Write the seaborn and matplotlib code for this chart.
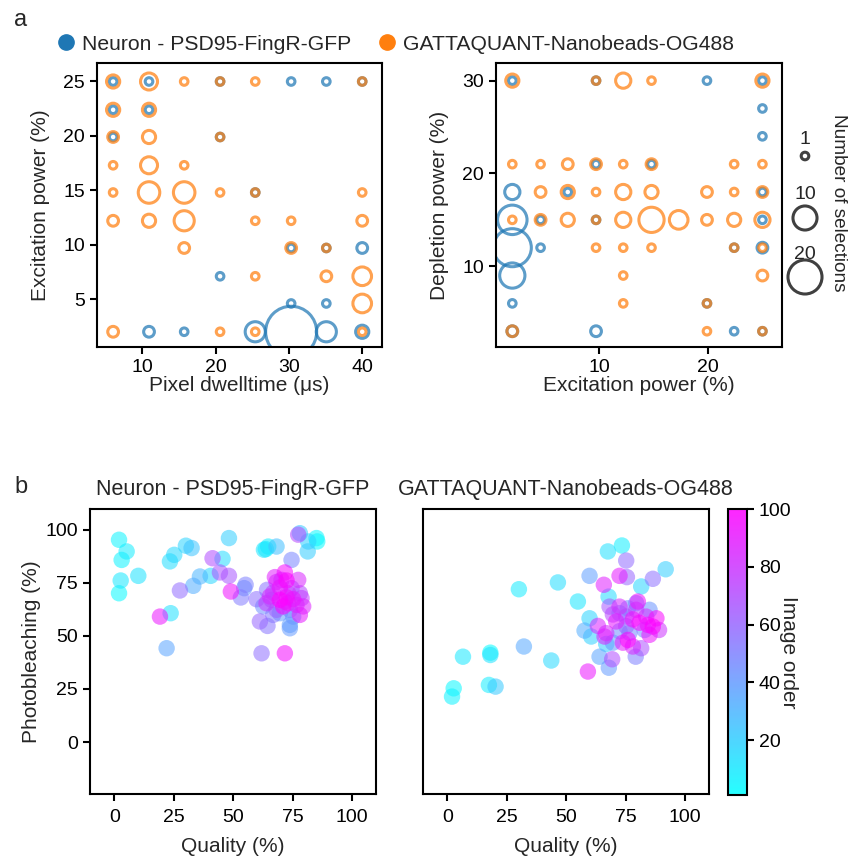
import numpy as np
import pandas as pd
import matplotlib
matplotlib.use("Agg")
import matplotlib.pyplot as plt
import seaborn as sns
from matplotlib.colors import Normalize
from matplotlib.cm import ScalarMappable
from matplotlib.lines import Line2D

# ---------------- data ----------------
dwell_levels = [6.0, 10.9, 15.7, 20.6, 25.4, 30.3, 35.1, 40.0]
exc_levels = [2.0, 4.6, 7.1, 9.7, 12.2, 14.8, 17.3, 19.9, 22.4, 25.0]
dep_levels = [3, 6, 9, 12, 15, 18, 21, 24, 27, 30]

series_names = ["Neuron - PSD95-FingR-GFP", "GATTAQUANT-Nanobeads-OG488"]
series_colors = ["#1f77b4", "#ff7f0e"]

# panel a-left : (dwell index, excitation index, count)
neuron_dw_i = [0, 1, 3, 5, 6, 7, 0, 1, 0, 3, 4, 5, 6, 7, 3, 5, 6, 1, 2, 4, 5, 6, 7]
neuron_dw_j = [9, 9, 9, 9, 9, 9, 8, 8, 7, 7, 5, 3, 3, 3, 2, 1, 1, 0, 0, 0, 0, 0, 0]
neuron_dw_n = [1, 1, 1, 1, 1, 1, 1, 1, 1, 1, 1, 1, 1, 2, 1, 1, 1, 2, 1, 7, 45, 7, 3]

gatta_dw_i = [0, 1, 2, 3, 4, 7, 0, 1, 0, 1, 3, 0, 1, 2, 0, 1, 2, 3, 4, 7,
              0, 1, 2, 4, 5, 7, 2, 5, 6, 4, 6, 7, 7, 0, 3, 4, 7]
gatta_dw_j = [9, 9, 9, 9, 9, 9, 8, 8, 7, 7, 7, 6, 6, 6, 5, 5, 5, 5, 5, 5,
              4, 4, 4, 4, 4, 4, 3, 3, 3, 2, 2, 2, 1, 0, 0, 0, 0]
gatta_dw_n = [3, 5, 1, 1, 1, 1, 3, 3, 2, 3, 1, 1, 5, 1, 1, 8, 8, 1, 1, 1,
              2, 3, 7, 1, 1, 2, 2, 2, 1, 1, 2, 6, 6, 2, 1, 1, 1]

# panel a-right : (excitation index, depletion index, count)
neuron_ex_k = [0, 3, 7, 9, 9, 9, 3, 5, 0, 2, 9, 0, 1, 3, 9, 0, 1, 8, 9, 0, 0, 7, 0, 3, 8, 9]
neuron_ex_m = [9, 9, 9, 9, 8, 7, 6, 6, 5, 5, 5, 4, 4, 4, 4, 3, 3, 3, 3, 2, 1, 1, 0, 0, 0, 0]
neuron_ex_n = [1, 1, 1, 1, 1, 1, 1, 1, 4, 1, 1, 15, 1, 1, 1, 25, 1, 1, 2, 11, 1, 1, 2, 2, 1, 1]

gatta_ex_k = [0, 3, 4, 5, 9,
              0, 1, 2, 3, 4, 5, 8, 9,
              1, 2, 3, 4, 5, 7, 8, 9,
              0, 1, 2, 3, 4, 5, 6, 7, 8, 9,
              3, 4, 5, 8, 9,
              4, 9, 4, 7, 0, 7, 9]
gatta_ex_m = [9, 9, 9, 9, 9,
              6, 6, 6, 6, 6, 6, 6, 6,
              5, 5, 5, 5, 5, 5, 5, 5,
              4, 4, 4, 4, 4, 4, 4, 4, 4, 4,
              3, 3, 3, 3, 3,
              2, 2, 1, 1, 0, 0, 0]
gatta_ex_n = [3, 1, 4, 1, 3,
              1, 1, 2, 2, 1, 2, 1, 1,
              2, 3, 1, 4, 3, 2, 1, 2,
              1, 2, 3, 1, 4, 11, 6, 2, 3, 4,
              1, 1, 1, 1, 1,
              1, 2, 1, 1, 2, 1, 1]

# panel b : quality, photobleaching, image order
neuron_quality = [2.0, 5.2, 3.1, 2.7, 2.0, 10.1, 23.4, 25.2, 30.1, 32.5, 48.2, 45.5, 40.5, 36.0, 33.2,
                  27.6, 23.7, 19.2, 22.0, 41.3, 44.4, 48.2, 49.0, 55.2, 54.6, 53.2, 59.8, 63.7, 62.9,
                  68.2, 64.7, 78.0, 77.3, 81.5, 85.0, 85.3, 81.3, 74.5, 61.9, 71.7, 61.2, 64.4, 73.8,
                  73.8, 78.0, 64.2, 67.5, 71.7, 77.3, 72.4, 69.6, 66.8, 72.4, 75.2, 78.7, 79.4, 71.0,
                  64.0, 66.1, 69.6, 73.1, 76.6, 73.8, 69.6, 66.8, 68.2, 75.2, 62.6, 65.4, 68.2, 70.3,
                  74.5, 78.0, 73.1, 71.7]
neuron_bleach = [95.3, 89.8, 85.8, 76.1, 70.1, 78.3, 85.1, 88.2, 92.5, 91.4, 96.1, 86.3, 78.3, 78.0, 73.6,
                 71.4, 60.7, 59.1, 44.2, 86.6, 79.9, 78.3, 70.9, 74.1, 72.5, 68.1, 67.3, 90.9, 90.6,
                 92.1, 92.1, 98.4, 97.7, 94.5, 96.1, 94.5, 89.8, 85.8, 41.8, 41.8, 56.8, 54.7, 53.6,
                 55.2, 59.9, 71.7, 77.7, 79.9, 76.4, 76.1, 72.8, 70.4, 68.2, 67.3, 67.8, 63.9, 63.9,
                 65.4, 67.0, 67.0, 65.4, 64.6, 62.3, 60.7, 59.9, 62.3, 59.1, 63.9, 68.6, 75.4, 76.4,
                 72.5, 70.1, 70.1, 66.2]
neuron_order = [5, 8, 6, 10, 3, 12, 14, 16, 18, 24, 20, 15, 17, 30, 33,
                58, 13, 92, 36, 70, 68, 66, 94, 50, 42, 52, 56, 9, 11,
                26, 7, 22, 72, 19, 4, 2, 21, 48, 57, 96, 60, 54, 40,
                38, 90, 55, 88, 97, 85, 99, 93, 74, 95, 91, 76, 87, 98,
                78, 64, 100, 89, 86, 46, 39, 53, 62, 41, 44, 84, 83, 82,
                67, 71, 81, 80]

gatta_quality = [2.0, 2.7, 6.6, 18.1, 18.1, 17.5, 20.3, 30.1, 32.2, 43.7, 46.5, 54.9, 59.8, 59.1, 67.5,
                 73.4, 75.2, 72.4, 75.5, 65.8, 81.5, 86.4, 91.8, 67.8, 59.8, 57.7, 60.5, 64.0, 67.9,
                 69.3, 79.2, 66.8, 63.3, 66.8, 68.2, 72.4, 80.1, 79.4, 85.0, 87.9, 84.3, 89.0, 85.0,
                 75.9, 78.0, 81.5, 71.0, 75.2, 72.4, 75.2, 78.0, 80.8, 76.6, 69.6, 73.8, 66.1, 82.9,
                 86.4, 69.6, 79.4, 72.4, 75.9, 83.6]
gatta_bleach = [21.4, 25.3, 40.2, 42.1, 41.0, 26.9, 26.1, 72.0, 45.0, 38.4, 75.2, 66.2, 78.3, 33.2, 89.8,
                92.6, 85.5, 78.3, 77.7, 74.1, 73.3, 76.9, 81.4, 68.5, 58.3, 52.5, 49.7, 40.2, 35.0,
                39.0, 40.2, 46.2, 54.7, 51.3, 63.8, 60.7, 66.2, 62.3, 62.3, 58.3, 55.2, 52.8, 50.5,
                48.1, 45.0, 44.2, 56.8, 59.1, 52.2, 54.6, 57.8, 56.2, 51.5, 46.8, 46.8, 49.7, 52.8,
                54.4, 60.1, 65.4, 63.8, 63.0, 59.1]
gatta_order = [6, 4, 10, 2, 12, 8, 22, 9, 35, 16, 14, 11, 38, 92, 13,
               7, 58, 90, 60, 88, 17, 56, 20, 15, 18, 33, 19, 36, 40,
               70, 50, 21, 86, 84, 66, 48, 94, 76, 42, 98, 96, 80, 93,
               99, 85, 68, 91, 64, 44, 62, 95, 97, 46, 41, 89, 87, 45,
               100, 72, 43, 83, 47, 82]

legend_counts = [1, 10, 20]

# ---------------- style ----------------
sns.set_style("ticks")
plt.rcParams["font.family"] = ["Liberation Sans", "DejaVu Sans"]
plt.rcParams.update({
    "axes.linewidth": 1.5,
    "xtick.major.width": 1.5, "ytick.major.width": 1.5,
    "xtick.major.size": 5, "ytick.major.size": 5,
    "xtick.labelsize": 14, "ytick.labelsize": 14,
    "axes.labelsize": 15, "axes.titlesize": 15.5,
    "axes.edgecolor": "black",
    "xtick.color": "black", "ytick.color": "black",
})

W, H = 848, 858
fig = plt.figure(figsize=(W / 100, H / 100), dpi=100)


def rect(x0, y0, x1, y1):
    return [x0 / W, 1 - y1 / H, (x1 - x0) / W, (y1 - y0) / H]


ax1 = fig.add_axes(rect(97, 63, 382, 347))
ax2 = fig.add_axes(rect(496, 63, 782, 347))
ax3 = fig.add_axes(rect(90, 509, 376, 794))
ax4 = fig.add_axes(rect(423, 509, 709, 794))
cax = fig.add_axes(rect(728, 509, 747, 795))

SIZES = (0, 3000)
SIZE_NORM = (0, 100)
RING_LW = 2.2
RING_ALPHA = 0.72


def rings(ax, xs, ys, ns, color):
    df = pd.DataFrame({"x": xs, "y": ys, "n": ns})
    sns.scatterplot(data=df, x="x", y="y", size="n", sizes=SIZES, size_norm=SIZE_NORM,
                    legend=False, ax=ax, color=color, linewidth=RING_LW, alpha=RING_ALPHA)
    coll = ax.collections[-1]
    coll.set_facecolor("none")
    coll.set_edgecolor(color)
    coll.set_alpha(RING_ALPHA)


# panel a-left
rings(ax1, [dwell_levels[i] for i in neuron_dw_i], [exc_levels[j] for j in neuron_dw_j], neuron_dw_n, series_colors[0])
rings(ax1, [dwell_levels[i] for i in gatta_dw_i], [exc_levels[j] for j in gatta_dw_j], gatta_dw_n, series_colors[1])
ax1.set_xlim(3.8, 42.7)
ax1.set_ylim(0.6, 26.7)
ax1.set_xticks([10, 20, 30, 40])
ax1.set_yticks([5, 10, 15, 20, 25])
ax1.set_xlabel("Pixel dwelltime (\u03bcs)", labelpad=0)
ax1.set_ylabel("Excitation power (%)", labelpad=10)

# panel a-right
rings(ax2, [exc_levels[k] for k in neuron_ex_k], [dep_levels[m] for m in neuron_ex_m], neuron_ex_n, series_colors[0])
rings(ax2, [exc_levels[k] for k in gatta_ex_k], [dep_levels[m] for m in gatta_ex_m], gatta_ex_n, series_colors[1])
ax2.set_xlim(0.5, 26.8)
ax2.set_ylim(1.3, 31.9)
ax2.set_xticks([10, 20])
ax2.set_yticks([10, 20, 30])
ax2.set_xlabel("Excitation power (%)", labelpad=0)
ax2.set_ylabel("Depletion power (%)", labelpad=10)

# series legend (top)
handles = [Line2D([], [], marker="o", ls="", markersize=11, markerfacecolor=c, markeredgecolor=c)
           for c in series_colors]
fig.legend(handles, series_names, loc="center left", bbox_to_anchor=(58 / W, 1 - 44 / H),
           ncol=2, frameon=False, fontsize=15.2, handlelength=0.8, handletextpad=0.35,
           columnspacing=1.3, borderaxespad=0, borderpad=0)

# size legend (key drawn in its own pixel-unit axes)
lax = fig.add_axes(rect(785, 100, 825, 300))
lax.set_xlim(785, 825)
lax.set_ylim(300, 100)
lax.axis("off")
key_x = 805
key_marker_y = [156, 218, 277]
key_label_y = [140, 195, 255]
leg_df = pd.DataFrame({"x": [key_x] * 3, "y": key_marker_y, "n": legend_counts})
sns.scatterplot(data=leg_df, x="x", y="y", size="n", sizes=SIZES, size_norm=SIZE_NORM,
                legend=False, ax=lax, color="0.25", linewidth=RING_LW)
lc = lax.collections[-1]
lc.set_facecolor("none")
lc.set_edgecolor("0.25")
lc.set_clip_on(False)
for yy, n in zip(key_label_y, legend_counts):
    lax.text(key_x, yy, str(n), ha="center", va="center", fontsize=14)
fig.text(838 / W, 1 - 203 / H, "Number of selections", rotation=270, ha="center", va="center", fontsize=13.7)

# panel b
cnorm = Normalize(1, 100)
PT_ALPHA = 0.55
for ax, q, pb, od, title in [(ax3, neuron_quality, neuron_bleach, neuron_order, series_names[0]),
                             (ax4, gatta_quality, gatta_bleach, gatta_order, series_names[1])]:
    df = pd.DataFrame({"q": q, "pb": pb, "order": od}).sort_values("order")
    sns.scatterplot(data=df, x="q", y="pb", hue="order", palette="cool", hue_norm=cnorm,
                    s=140, linewidth=0, alpha=PT_ALPHA, legend=False, ax=ax)
    ax.set_xlim(-10.2, 110)
    ax.set_ylim(-24.5, 109.8)
    ax.set_xticks([0, 25, 50, 75, 100])
    ax.tick_params(axis="x", pad=6)
    ax.set_xlabel("Quality (%)", labelpad=8)
    ax.set_title(title, pad=10)

ax3.set_yticks([0, 25, 50, 75, 100])
ax3.set_ylabel("Photobleaching (%)", labelpad=3)
ax4.set_yticks([])
ax4.set_ylabel("")

sm = ScalarMappable(norm=cnorm, cmap="cool")
cb = fig.colorbar(sm, cax=cax, alpha=0.85)
cb.set_ticks([20, 40, 60, 80, 100])
cb.outline.set_linewidth(1.5)
cb.ax.tick_params(labelsize=14, width=1.5, length=5)
cb.set_label("Image order", rotation=270, fontsize=15, labelpad=5)

# panel letters
fig.text(14 / W, 1 - 20 / H, "a", fontsize=17, ha="left", va="center")
fig.text(14 / W, 1 - 487 / H, "b", fontsize=17, ha="left", va="center")

fig.savefig("out.png", dpi=100)
